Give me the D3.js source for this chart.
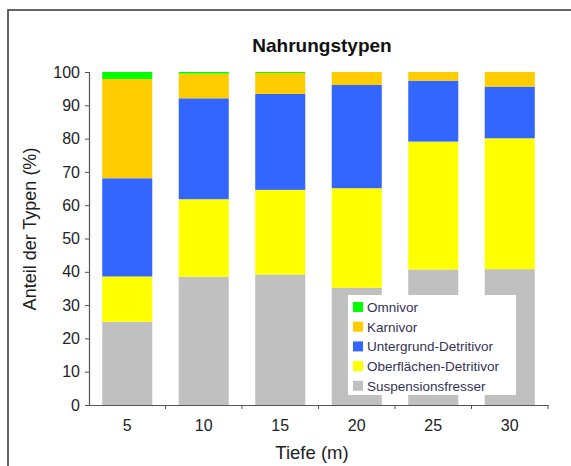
<!DOCTYPE html>
<html>
<head>
<meta charset="utf-8">
<script src="https://cdn.jsdelivr.net/npm/d3@7"></script>
<style>
  body { margin: 0; background: #fff; }
  text { font-family: "Liberation Sans", Arial, sans-serif; }
</style>
</head>
<body>
<div id="chart"></div>
<script>
var width = 571;
var height = 466;
var margin = { left: 89, right: 23, top: 72, bottom: 61 };

// Tiefe (m)
var depths = ["5", "10", "15", "20", "25", "30"];
// Anteil der Typen (%) per Typ, von unten nach oben gestapelt
var suspension = [25.0, 38.5, 39.2, 35.2, 40.7, 40.8];
var oberflaeche = [13.6, 23.3, 25.4, 29.9, 38.4, 39.3];
var untergrund = [29.5, 30.3, 28.8, 31.0, 18.3, 15.5];
var karnivor = [29.8, 7.4, 6.3, 3.9, 2.6, 4.4];
var omnivor = [2.1, 0.5, 0.3, 0.0, 0.0, 0.0];
var yTicks = [0, 10, 20, 30, 40, 50, 60, 70, 80, 90, 100];

var keys = ["Suspensionsfresser", "Oberflächen-Detritivor", "Untergrund-Detritivor", "Karnivor", "Omnivor"];
var colors = ["#c0c0c0", "#ffff00", "#3366ff", "#ffcc00", "#00ff00"];

var table = depths.map(function (d, i) {
    return {
        depth: d,
        "Suspensionsfresser": suspension[i],
        "Oberflächen-Detritivor": oberflaeche[i],
        "Untergrund-Detritivor": untergrund[i],
        "Karnivor": karnivor[i],
        "Omnivor": omnivor[i]
    };
});

var svg = d3.select("#chart")
    .append("svg")
    .attr("width", width)
    .attr("height", height);

// Rahmen
svg.append("rect")
    .attr("x", 8).attr("y", 10)
    .attr("width", 600).attr("height", 500)
    .attr("fill", "none")
    .attr("stroke", "#333")
    .attr("stroke-width", 1.5);

var x = d3.scaleBand()
    .domain(depths)
    .range([margin.left, width - margin.right])
    .paddingInner(0.346)
    .paddingOuter(0.173);

var y = d3.scaleLinear()
    .domain([0, 100])
    .range([height - margin.bottom, margin.top]);

var stack = d3.stack().keys(keys);
var series = stack(table);

var layers = svg.selectAll("g.layer")
    .data(series)
    .enter()
    .append("g")
    .attr("class", "layer")
    .attr("fill", function (d, i) { return colors[i]; });

layers.selectAll("rect")
    .data(function (d) { return d; })
    .enter()
    .append("rect")
    .attr("x", function (d) { return x(d.data.depth); })
    .attr("width", x.bandwidth())
    .attr("y", function (d) { return y(d[1]); })
    .attr("height", function (d) { return y(d[0]) - y(d[1]); });

// Y-Achse
var yAxis = svg.append("g")
    .attr("transform", "translate(" + margin.left + ",0)")
    .call(d3.axisLeft(y).tickValues(yTicks).tickSize(4).tickPadding(5));
yAxis.select(".domain").attr("stroke", "#555").attr("stroke-width", 1.2);
yAxis.selectAll(".tick line").attr("stroke", "#555");
yAxis.selectAll("text")
    .attr("font-size", 16)
    .attr("fill", "#222")
    .attr("font-family", "Liberation Sans, Arial, sans-serif");

// X-Achse
var xAxis = svg.append("g")
    .attr("transform", "translate(0," + (height - margin.bottom) + ")")
    .call(d3.axisBottom(x).tickSize(0).tickPadding(15));
xAxis.select(".domain").attr("stroke", "#555").attr("stroke-width", 1.2);
xAxis.selectAll("text")
    .attr("font-size", 16)
    .attr("fill", "#222")
    .attr("font-family", "Liberation Sans, Arial, sans-serif");

// Teilstriche zwischen den Kategorien
var step = x.step();
var bounds = depths.map(function (d) { return x(d) - x.paddingInner() * step / 2 + step; });
svg.append("g")
    .selectAll("line")
    .data(bounds)
    .enter()
    .append("line")
    .attr("x1", function (d) { return d; })
    .attr("x2", function (d) { return d; })
    .attr("y1", height - margin.bottom)
    .attr("y2", height - margin.bottom + 4)
    .attr("stroke", "#555");

// Titel
svg.append("text")
    .attr("x", 322).attr("y", 52)
    .attr("text-anchor", "middle")
    .attr("font-size", 19)
    .attr("font-weight", "bold")
    .attr("fill", "#111")
    .text("Nahrungstypen");

svg.append("text")
    .attr("x", 312).attr("y", 459)
    .attr("text-anchor", "middle")
    .attr("font-size", 18.5)
    .attr("fill", "#222")
    .text("Tiefe (m)");

svg.append("text")
    .attr("transform", "translate(36,229) rotate(-90)")
    .attr("text-anchor", "middle")
    .attr("font-size", 18)
    .attr("fill", "#222")
    .text("Anteil der Typen (%)");

// Legende
var legend = svg.append("g");
legend.append("rect")
    .attr("x", 348).attr("y", 295)
    .attr("width", 168).attr("height", 100)
    .attr("fill", "#fff");

var legendKeys = keys.slice().reverse();
var legendColors = colors.slice().reverse();
var items = legend.selectAll("g.item")
    .data(legendKeys)
    .enter()
    .append("g")
    .attr("class", "item")
    .attr("transform", function (d, i) { return "translate(353," + (307 + i * 19.7) + ")"; });

items.append("rect")
    .attr("x", 0).attr("y", -5)
    .attr("width", 10).attr("height", 10)
    .attr("fill", function (d, i) { return legendColors[i]; });

items.append("text")
    .attr("x", 14).attr("y", 5)
    .attr("font-size", 13.5)
    .attr("fill", "#333355")
    .text(function (d) { return d; });
</script>
</body>
</html>
